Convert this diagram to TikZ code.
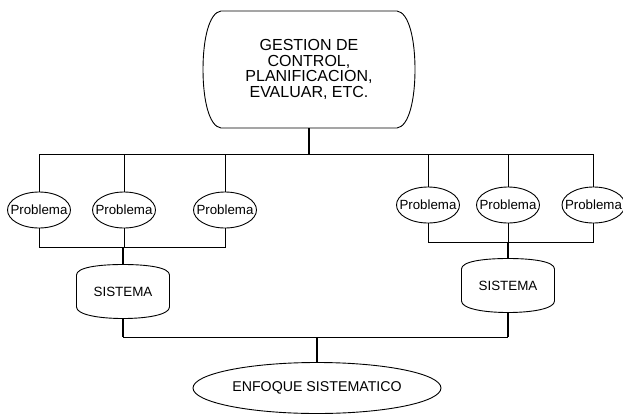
\documentclass[tikz,border=0pt]{standalone}
\usepackage{fontspec}
\setmainfont{Liberation Sans}
\usetikzlibrary{shapes.geometric}
\begin{document}
\begin{tikzpicture}[x=1pt,y=-1pt,
  thinline/.style={line width=0.9pt},
  thickline/.style={line width=1.6pt},
  prob/.style={ellipse,draw,line width=0.9pt,inner ysep=0pt,inner xsep=-12pt,
    minimum width=63pt,minimum height=36pt,font=\fontsize{13.3}{14}\selectfont},
  drumbox/.style={rectangle,inner sep=0pt,minimum width=93pt,minimum height=54pt,
    font=\fontsize{13.4}{14}\selectfont},
  topbox/.style={rectangle,inner sep=0pt,align=center,minimum width=212pt,
    minimum height=117pt,font=\fontsize{16}{15.5}\selectfont},
  goalbox/.style={ellipse,draw,line width=0.9pt,inner sep=0pt,minimum width=248pt,
    minimum height=51pt,font=\fontsize{14.2}{15}\selectfont}]
\useasboundingbox (0,0) rectangle (623,415);

% drum outline (straight sides, arched top and bottom) around a node
\newcommand\drumoutline[1]{%
  \draw[thinline,shift={(#1.center)}]
    (-46.5,-16.5) .. controls (-46.5,-24) and (-25,-27) .. (0,-27)
    .. controls (25,-27) and (46.5,-24) .. (46.5,-16.5)
    -- (46.5,15.5) .. controls (46.5,23) and (25,27) .. (0,27)
    .. controls (-25,27) and (-46.5,23) .. (-46.5,15.5) -- cycle;}

% top node
\node[topbox] (gest) at (309,69.5) {GESTION DE\\CONTROL,\\PLANIFICACION,\\EVALUAR, ETC.};
\draw[thinline,shift={(gest.center)}]
  (-88,-58.5) -- (88,-58.5) .. controls (100,-57) and (106,-30) .. (106,0)
  .. controls (106,30) and (100,57) .. (88,58.5) -- (-88,58.5)
  .. controls (-100,57) and (-106,30) .. (-106,0)
  .. controls (-106,-30) and (-100,-57) .. (-88,-58.5) -- cycle;

% problems
\node[prob] (p1) at (39,210) {Problema};
\node[prob] (p2) at (124,210) {Problema};
\node[prob] (p3) at (225,210) {Problema};
\node[prob] (p4) at (428,205) {Problema};
\node[prob] (p5) at (508,205) {Problema};
\node[prob] (p6) at (593.5,205) {Problema};

% systems
\node[drumbox] (s1) at (123,291.5) {SISTEMA};
\node[drumbox] (s2) at (508,285.5) {SISTEMA};
\drumoutline{s1}
\drumoutline{s2}

% result
\node[goalbox] (enf) at (317,388) {ENFOQUE SISTEMATICO};

% bus levels
\coordinate (topbus) at (0,154);
\coordinate (lbus) at (0,247);
\coordinate (rbus) at (0,242);
\coordinate (bbus) at (0,337);

% connectors
\draw[thickline] (gest.south) -- (gest.south |- topbus);
\draw[thinline] (p1.north) -- (p1.north |- topbus) -- (p6.north |- topbus) -- (p6.north);
\foreach \n in {p2,p3,p4,p5} \draw[thinline] (\n.north) -- (\n.north |- topbus);

\draw[thinline] (p1.south) -- (p1.south |- lbus) -- (p3.south |- lbus) -- (p3.south);
\draw[thinline] (p2.south) -- (p2.south |- lbus);
\draw[thickline] (s1.north |- lbus) -- (s1.north);

\draw[thinline] (p4.south) -- (p4.south |- rbus) -- (p6.south |- rbus) -- (p6.south);
\draw[thinline] (p5.south) -- (p5.south |- rbus);
\draw[thickline] (s2.north |- rbus) -- (s2.north);

\draw[thickline] (s1.south) -- (s1.south |- bbus);
\draw[thickline] (s2.south) -- (s2.south |- bbus);
\draw[thinline] (s1.south |- bbus) -- (s2.south |- bbus);
\draw[thickline] (enf.north |- bbus) -- (enf.north);
\end{tikzpicture}
\end{document}
